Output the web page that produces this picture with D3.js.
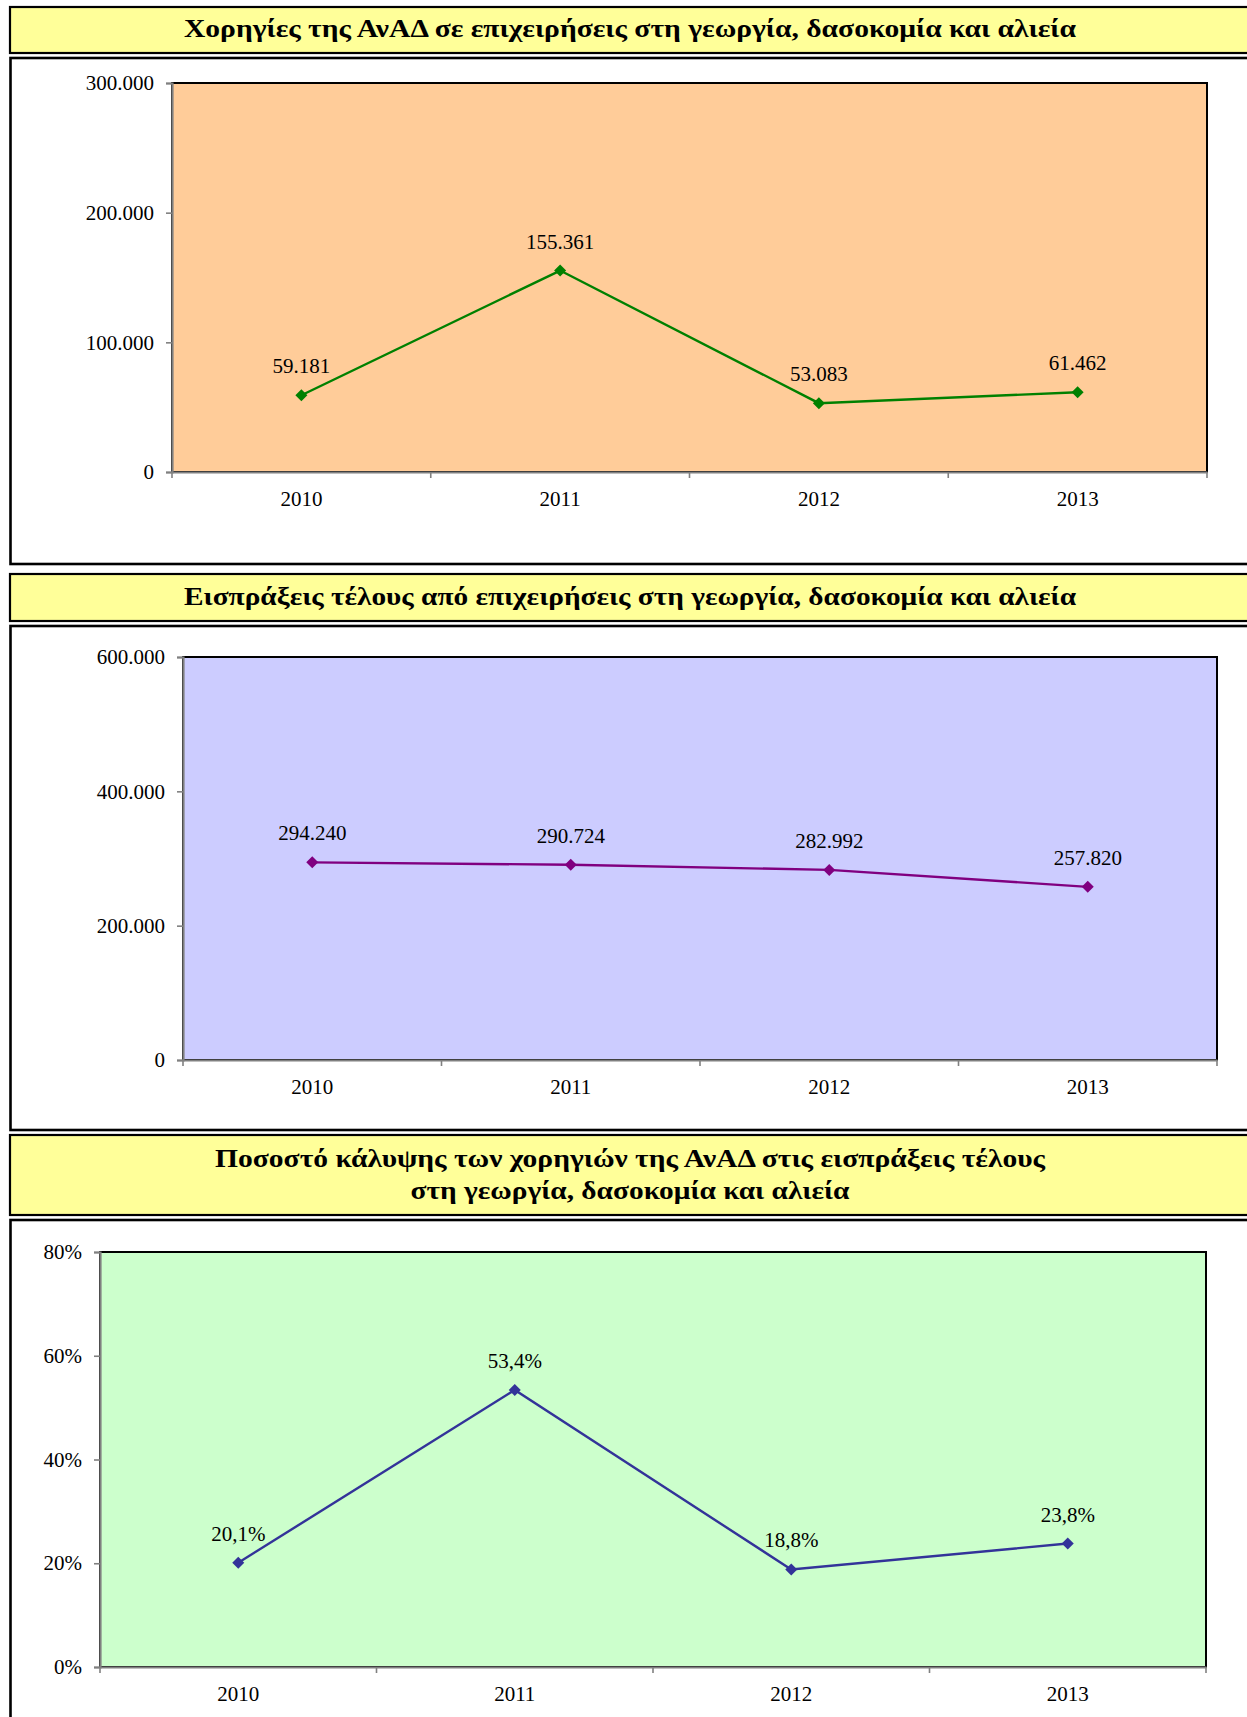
<!DOCTYPE html>
<html>
<head>
<meta charset="utf-8">
<script src="https://cdn.jsdelivr.net/npm/d3@7"></script>
<style>
  html, body { margin: 0; padding: 0; background: #fff; }
  svg { display: block; }
  text { font-family: "Liberation Serif", "Times New Roman", serif; fill: #000; }
</style>
</head>
<body>
<svg id="chart" width="1247" height="1717"></svg>
<script>
// ---- data ----
const years = ["2010", "2011", "2012", "2013"];
const subsidies = [59181, 155361, 53083, 61462];
const feeReceipts = [294240, 290724, 282992, 257820];
const coverage = [0.201, 0.534, 0.188, 0.238];
const subsidyTicks = [0, 100000, 200000, 300000];
const receiptTicks = [0, 200000, 400000, 600000];
const coverageTicks = [0, 0.2, 0.4, 0.6, 0.8];
const titles = [
  ["Χορηγίες της ΑνΑΔ σε επιχειρήσεις στη γεωργία, δασοκομία και αλιεία"],
  ["Εισπράξεις τέλους από επιχειρήσεις στη γεωργία, δασοκομία και αλιεία"],
  ["Ποσοστό κάλυψης των χορηγιών της ΑνΑΔ στις εισπράξεις τέλους", "στη γεωργία, δασοκομία και αλιεία"]
];

const loc = d3.formatLocale({decimal: ",", thousands: ".", grouping: [3], currency: ["", "€"]});
const fmtInt = loc.format(",.0f");
const fmtPct0 = loc.format(".0%");
const fmtPct1 = loc.format(".1%");

const svg = d3.select("#chart");

// ---- frames (title boxes + chart boxes) ----
const titleBoxes = [
  {y: 7, h: 46, lines: [36.5], widths: [892]},
  {y: 574, h: 47, lines: [605], widths: [892]},
  {y: 1135, h: 80, lines: [1166.5, 1199], widths: [830, 439]}
];
const chartBoxes = [
  {y: 58, h: 506},
  {y: 626, h: 504},
  {y: 1220, h: 600}
];
titleBoxes.forEach((b, i) => {
  svg.append("rect").attr("x", 10).attr("y", b.y).attr("width", 1260).attr("height", b.h)
    .attr("fill", "#FFFF99").attr("stroke", "#000").attr("stroke-width", 2.2);
  titles[i].forEach((t, j) => {
    svg.append("text").attr("x", 630).attr("y", b.lines[j])
      .attr("text-anchor", "middle").attr("font-weight", "bold").attr("font-size", 24.5)
      .attr("textLength", b.widths[j]).attr("lengthAdjust", "spacingAndGlyphs")
      .text(t);
  });
});
chartBoxes.forEach(b => {
  svg.append("rect").attr("x", 10.5).attr("y", b.y).attr("width", 1260).attr("height", b.h)
    .attr("fill", "#fff").attr("stroke", "#000").attr("stroke-width", 2.6);
});

// ---- charts ----
const charts = [
  {plot: {l: 172, t: 83, r: 1207, b: 472}, values: subsidies, domain: [0, 300000], ticks: subsidyTicks,
   tickFmt: fmtInt, labFmt: fmtInt, fill: "#FFCC99", color: "#008000"},
  {plot: {l: 183, t: 657, r: 1217, b: 1060}, values: feeReceipts, domain: [0, 600000], ticks: receiptTicks,
   tickFmt: fmtInt, labFmt: fmtInt, fill: "#CCCCFF", color: "#800080"},
  {plot: {l: 100, t: 1252, r: 1206, b: 1667}, values: coverage, domain: [0, 0.8], ticks: coverageTicks,
   tickFmt: fmtPct0, labFmt: fmtPct1, fill: "#CCFFCC", color: "#333399"}
];

const FS = 21;
charts.forEach(c => {
  const p = c.plot;
  const g = svg.append("g");
  const x = d3.scaleBand().domain(years).range([p.l, p.r]).paddingInner(0).paddingOuter(0);
  const y = d3.scaleLinear().domain(c.domain).range([p.b, p.t]);

  // plot area
  g.append("rect").attr("x", p.l).attr("y", p.t).attr("width", p.r - p.l).attr("height", p.b - p.t)
    .attr("fill", c.fill).attr("stroke", "#000").attr("stroke-width", 2);

  // y axis
  const ya = g.append("g").attr("transform", `translate(${p.l},0)`)
    .call(d3.axisLeft(y).tickValues(c.ticks).tickFormat(c.tickFmt).tickSize(6).tickPadding(12));
  ya.select(".domain").attr("stroke", "#808080").attr("stroke-width", 2.2);
  ya.selectAll(".tick line").attr("stroke", "#808080").attr("stroke-width", 1.6);
  ya.selectAll("text").attr("font-size", FS).attr("font-family", "Liberation Serif, serif");

  // x axis labels
  const xa = g.append("g").attr("transform", `translate(0,${p.b})`)
    .call(d3.axisBottom(x).tickSize(0).tickPadding(19).tickSizeOuter(0));
  xa.select(".domain").attr("stroke", "#808080").attr("stroke-width", 2.2);
  xa.selectAll("text").attr("font-size", FS).attr("font-family", "Liberation Serif, serif");

  // x boundary ticks
  const bounds = years.map(d => x(d)).concat([x(years[years.length - 1]) + x.bandwidth()]);
  g.selectAll(".bt").data(bounds).enter().append("line")
    .attr("x1", d => d).attr("x2", d => d).attr("y1", p.b).attr("y2", p.b + 6)
    .attr("stroke", "#808080").attr("stroke-width", 1.6);

  // line
  const cx = (d, i) => x(years[i]) + x.bandwidth() / 2;
  g.append("path").datum(c.values)
    .attr("d", d3.line().x(cx).y(d => y(d)))
    .attr("fill", "none").attr("stroke", c.color).attr("stroke-width", 2.4);

  // markers
  g.selectAll(".m").data(c.values).enter().append("path")
    .attr("d", d3.symbol(d3.symbolSquare, 72)())
    .attr("transform", (d, i) => `translate(${cx(d, i)},${y(d)}) rotate(45)`)
    .attr("fill", c.color);

  // labels
  g.selectAll(".lab").data(c.values).enter().append("text")
    .attr("x", cx).attr("y", d => y(d) - 22)
    .attr("text-anchor", "middle").attr("font-size", FS)
    .text(d => c.labFmt(d));
});
</script>
</body>
</html>
